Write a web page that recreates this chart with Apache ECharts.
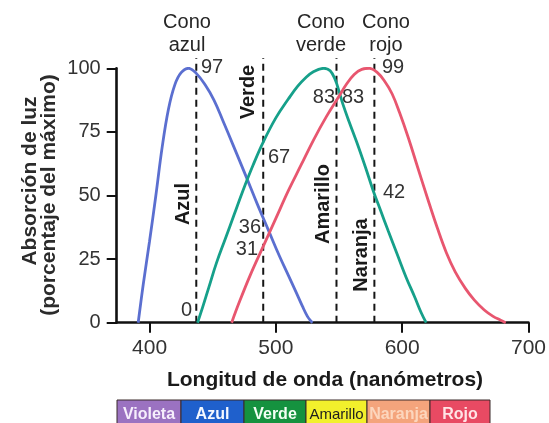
<!DOCTYPE html>
<html>
<head>
<meta charset="utf-8">
<script src="https://cdn.jsdelivr.net/npm/echarts@6/dist/echarts.min.js"></script>
<style>
html,body{margin:0;padding:0;background:#fff;}
#c{width:549px;height:423px;}
</style>
</head>
<body>
<div id="c"></div>
<script>
// ---- data (wavelength nm, absorption % of max) ----
var blueCone = [[391,0],[395,15],[400,32],[405,50],[410,69],[415,84],[420,93.5],[425,98.3],[431,100],[437,98],[444,93.5],[451,87.5],[458,79.5],[466,70],[476,58],[485,47],[494,36.5],[503,26],[510,18.5],[516,12],[521,6.5],[525,2.5],[528,0.5],[529,0]];
var greenCone = [[438,0],[442,6],[447,14],[453,23.5],[460,33],[467,42.5],[474,52],[482,62],[490,71],[500,80.5],[510,88],[517,92.8],[523,96],[530,98.7],[538,100],[543,99],[547,95.5],[550,91],[553,86],[558,79],[564,71],[571,61],[577,52],[583,44],[589,36],[596,27],[603,18],[610,10],[615,4],[619,0]];
var redCone = [[465,0],[471,8],[480,19],[490,30],[500,41],[510,52],[520,62],[530,72],[540,81],[550,89],[556,93.8],[562,97.6],[568,99.6],[574,100],[580,98.5],[586,95],[592,90],[598,82.5],[605,72.5],[612,61.5],[620,49],[628,37],[635,27.5],[642,20],[650,13.5],[657,9],[665,5],[672,2.5],[678,1],[682,0]];
var markerWavelengths = [437, 490, 548, 578];
var markerNames = ['Azul', 'Verde', 'Amarillo', 'Naranja'];
var xTicks = [400, 500, 600, 700];
var spectrumNames = ['Violeta', 'Azul', 'Verde', 'Amarillo', 'Naranja', 'Rojo'];
var spectrumColors = ['#9b72c1', '#1f60cc', '#15923f', '#f2f02c', '#f4a47c', '#e84a63'];
var spectrumText = ['#f6effc', '#f4f8ff', '#f2fff4', '#1e1e1e', '#fcd6bd', '#ffe4e6'];
var annotations = [
  {t:'97', x:201, y:67, a:'left'},
  {t:'0', x:192, y:310, a:'right'},
  {t:'36', x:261, y:227, a:'right'},
  {t:'31', x:258, y:249, a:'right'},
  {t:'67', x:268, y:157, a:'left'},
  {t:'83', x:335, y:97, a:'right'},
  {t:'83', x:342, y:97, a:'left'},
  {t:'99', x:382, y:67, a:'left'},
  {t:'42', x:383, y:192, a:'left'}
];
var coneLabels = [{l1:'Cono', l2:'azul', x:187},{l1:'Cono', l2:'verde', x:321},{l1:'Cono', l2:'rojo', x:386}];
var rotLabelPos = [{x:183, y:204},{x:248, y:92},{x:323, y:204},{x:361, y:255}];

var FONT = "'Liberation Sans', Arial, Helvetica, sans-serif";
var chart = echarts.init(document.getElementById('c'), null, {renderer:'canvas'});

var series = [
  {type:'line', data: blueCone, smooth:0.4, symbol:'none', lineStyle:{color:'#5b6fd0', width:2.8}, z:3},
  {type:'line', data: greenCone, smooth:0.4, symbol:'none', lineStyle:{color:'#16a08a', width:2.8}, z:3},
  {type:'line', data: redCone, smooth:0.4, symbol:'none', lineStyle:{color:'#e8566f', width:2.8}, z:3}
];
markerWavelengths.forEach(function(w){
  series.push({type:'line', data:[[w,0],[w,104]], symbol:'none', clip:false, silent:true,
    lineStyle:{color:'#151515', width:2, type:[7,5]}, z:2});
});

var graphics = [];
graphics.push({type:'text', x:30, y:181, rotation:Math.PI/2, style:{text:'Absorción de luz', font:'bold 21px '+FONT, fill:'#2b2b2b', align:'center', verticalAlign:'middle'}});
graphics.push({type:'text', x:49, y:195, rotation:Math.PI/2, style:{text:'(porcentaje del máximo)', font:'bold 21px '+FONT, fill:'#2b2b2b', align:'center', verticalAlign:'middle'}});
graphics.push({type:'text', x:325, y:380, style:{text:'Longitud de onda (nanómetros)', font:'bold 21px '+FONT, fill:'#1a1a1a', align:'center', verticalAlign:'middle'}});
coneLabels.forEach(function(c){
  graphics.push({type:'text', x:c.x, y:22, style:{text:c.l1, font:'20px '+FONT, fill:'#262626', align:'center', verticalAlign:'middle'}});
  graphics.push({type:'text', x:c.x, y:45, style:{text:c.l2, font:'20px '+FONT, fill:'#262626', align:'center', verticalAlign:'middle'}});
});
markerNames.forEach(function(n, i){
  graphics.push({type:'text', x:rotLabelPos[i].x, y:rotLabelPos[i].y, rotation:Math.PI/2, style:{text:n, font:'bold 20px '+FONT, fill:'#1a1a1a', align:'center', verticalAlign:'middle'}});
});
annotations.forEach(function(a){
  graphics.push({type:'text', x:a.x, y:a.y, style:{text:a.t, font:'20px '+FONT, fill:'#333', align:a.a, verticalAlign:'middle'}});
});
var bx = [117, 181, 244, 306, 367, 430, 490];
spectrumNames.forEach(function(n, i){
  graphics.push({type:'rect', shape:{x:bx[i], y:400, width:bx[i+1]-bx[i], height:30}, style:{fill:spectrumColors[i], stroke:'#3a2a2a', lineWidth:1}});
  graphics.push({type:'text', x:(bx[i]+bx[i+1])/2, y:415, style:{text:n, font:(n==='Amarillo'?'15px ':'bold 16px ')+FONT, fill:spectrumText[i], align:'center', verticalAlign:'middle'}});
});

chart.setOption({
  animation:false,
  backgroundColor:'#ffffff',
  grid:{left:116.7, top:68.3, right:17.3, bottom:100.3, containLabel:false},
  xAxis:{type:'value', min:374, max:700,
    axisLine:{show:true, onZero:false, lineStyle:{color:'#111', width:2.6}},
    axisTick:{show:true, length:10, customValues:xTicks, lineStyle:{color:'#111', width:2}},
    axisLabel:{show:true, customValues:xTicks, fontSize:21, fontFamily:FONT, color:'#333', margin:15},
    splitLine:{show:false}},
  yAxis:{type:'value', min:0, max:100, interval:25,
    axisLine:{show:true, lineStyle:{color:'#111', width:2.6}},
    axisTick:{show:true, length:10, lineStyle:{color:'#111', width:2}},
    axisLabel:{show:true, fontSize:20, fontFamily:FONT, color:'#333', margin:16},
    splitLine:{show:false}},
  series: series,
  graphic: graphics
});
</script>
</body>
</html>
